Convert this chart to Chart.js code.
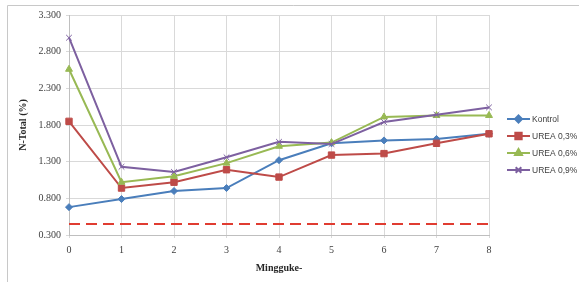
<!DOCTYPE html>
<html>
<head>
<meta charset="utf-8">
<script src="https://cdn.jsdelivr.net/npm/chart.js@4/dist/chart.umd.min.js"></script>
<style>
html,body{margin:0;padding:0;background:#fff;}
#wrap{position:relative;width:579px;height:282px;}
</style>
</head>
<body>
<div id="wrap"><canvas id="c" width="579" height="282"></canvas></div>
<script>
const weeks = ['0','1','2','3','4','5','6','7','8'];
const kontrol = [0.68, 0.79, 0.90, 0.94, 1.32, 1.55, 1.59, 1.61, 1.68];
const urea03 = [1.85, 0.94, 1.02, 1.19, 1.09, 1.39, 1.41, 1.55, 1.68];
const urea06 = [2.56, 1.02, 1.10, 1.28, 1.51, 1.56, 1.91, 1.93, 1.93];
const urea09 = [2.99, 1.23, 1.16, 1.36, 1.57, 1.54, 1.84, 1.94, 2.04];
const refLevel = [0.45, 0.45, 0.45, 0.45, 0.45, 0.45, 0.45, 0.45, 0.45];
const seriesNames = ['Kontrol', 'UREA 0,3%', 'UREA 0,6%', 'UREA 0,9%'];
const yTitle = 'N-Total (%)';
const xTitle = 'Mingguke-';

const colors = ['#4a7ebb', '#be4b48', '#98b954', '#7d60a0'];
const pStyles = ['rectRot', 'rect', 'triangle', 'crossRot'];
const pRadius = [3.5, 4.5, 4, 4];

const frame = {
  id: 'frame',
  beforeDraw(chart) {
    const ctx = chart.ctx;
    ctx.save();
    ctx.strokeStyle = '#c8c8c8';
    ctx.lineWidth = 1;
    ctx.beginPath();
    ctx.moveTo(7.5, 282);
    ctx.lineTo(7.5, 5.5);
    ctx.lineTo(579, 5.5);
    ctx.stroke();
    ctx.restore();
  }
};

const legendPlugin = {
  id: 'customLegend',
  afterDraw(chart) {
    const ctx = chart.ctx;
    ctx.save();
    const ys = [119, 136, 153, 170];
    for (let i = 0; i < 4; i++) {
      const y = ys[i];
      ctx.strokeStyle = colors[i];
      ctx.lineWidth = 2;
      ctx.beginPath();
      ctx.moveTo(507, y);
      ctx.lineTo(530, y);
      ctx.stroke();
      ctx.fillStyle = colors[i];
      Chart.helpers.drawPoint(ctx, {
        pointStyle: pStyles[i], radius: pRadius[i], rotation: 0, borderWidth: 1
      }, 518.5, y);
      ctx.fill();
      ctx.fillStyle = '#404040';
      ctx.font = '8.5px "Liberation Sans", Arial, sans-serif';
      ctx.textBaseline = 'middle';
      ctx.textAlign = 'left';
      ctx.fillText(seriesNames[i], 532, y + 0.5);
    }
    ctx.restore();
  }
};

const seriesData = [kontrol, urea03, urea06, urea09];
const datasets = seriesData.map((d, i) => ({
  label: seriesNames[i],
  data: d,
  borderColor: colors[i],
  backgroundColor: colors[i],
  borderWidth: 2,
  pointStyle: pStyles[i],
  pointRadius: pRadius[i],
  pointBorderWidth: 1,
  pointHoverRadius: pRadius[i],
  tension: 0,
  order: 4 - i
}));
datasets.push({
  label: 'ref',
  data: refLevel,
  borderColor: '#e03c31',
  borderWidth: 2,
  borderDash: [11, 6],
  pointRadius: 0,
  tension: 0,
  order: 10
});

new Chart(document.getElementById('c'), {
  type: 'line',
  data: { labels: weeks, datasets },
  options: {
    responsive: false,
    animation: false,
    events: [],
    layout: { padding: { left: 12, right: 90, top: 15, bottom: 8 } },
    plugins: { legend: { display: false }, tooltip: { enabled: false } },
    scales: {
      x: {
        offset: false,
        grid: { color: '#d9d9d9', lineWidth: 1, drawTicks: true, tickLength: 3 },
        border: { color: '#bfbfbf' },
        ticks: {
          color: '#404040',
          font: { family: '"Liberation Serif", "Times New Roman", serif', size: 10 },
          padding: 6, maxRotation: 0
        },
        title: {
          display: true, text: xTitle, color: '#262626',
          font: { family: '"Liberation Serif", "Times New Roman", serif', size: 10, weight: 'bold' },
          padding: { top: 2, bottom: 0 }
        },
        afterFit(scale) { scale.height = 282 - 235 - 8; }
      },
      y: {
        min: 0.3, max: 3.3,
        grid: { color: '#d9d9d9', lineWidth: 1, drawTicks: true, tickLength: 3 },
        border: { color: '#bfbfbf' },
        ticks: {
          stepSize: 0.5,
          color: '#404040',
          font: { family: '"Liberation Serif", "Times New Roman", serif', size: 10 },
          padding: 5,
          callback: v => Number(v).toFixed(3)
        },
        title: {
          display: true, text: yTitle, color: '#262626',
          font: { family: '"Liberation Serif", "Times New Roman", serif', size: 10, weight: 'bold' },
          padding: { top: 5, bottom: 0 }
        },
        afterFit(scale) { scale.width = 69 - 12; }
      }
    }
  },
  plugins: [frame, legendPlugin]
});
</script>
</body>
</html>
